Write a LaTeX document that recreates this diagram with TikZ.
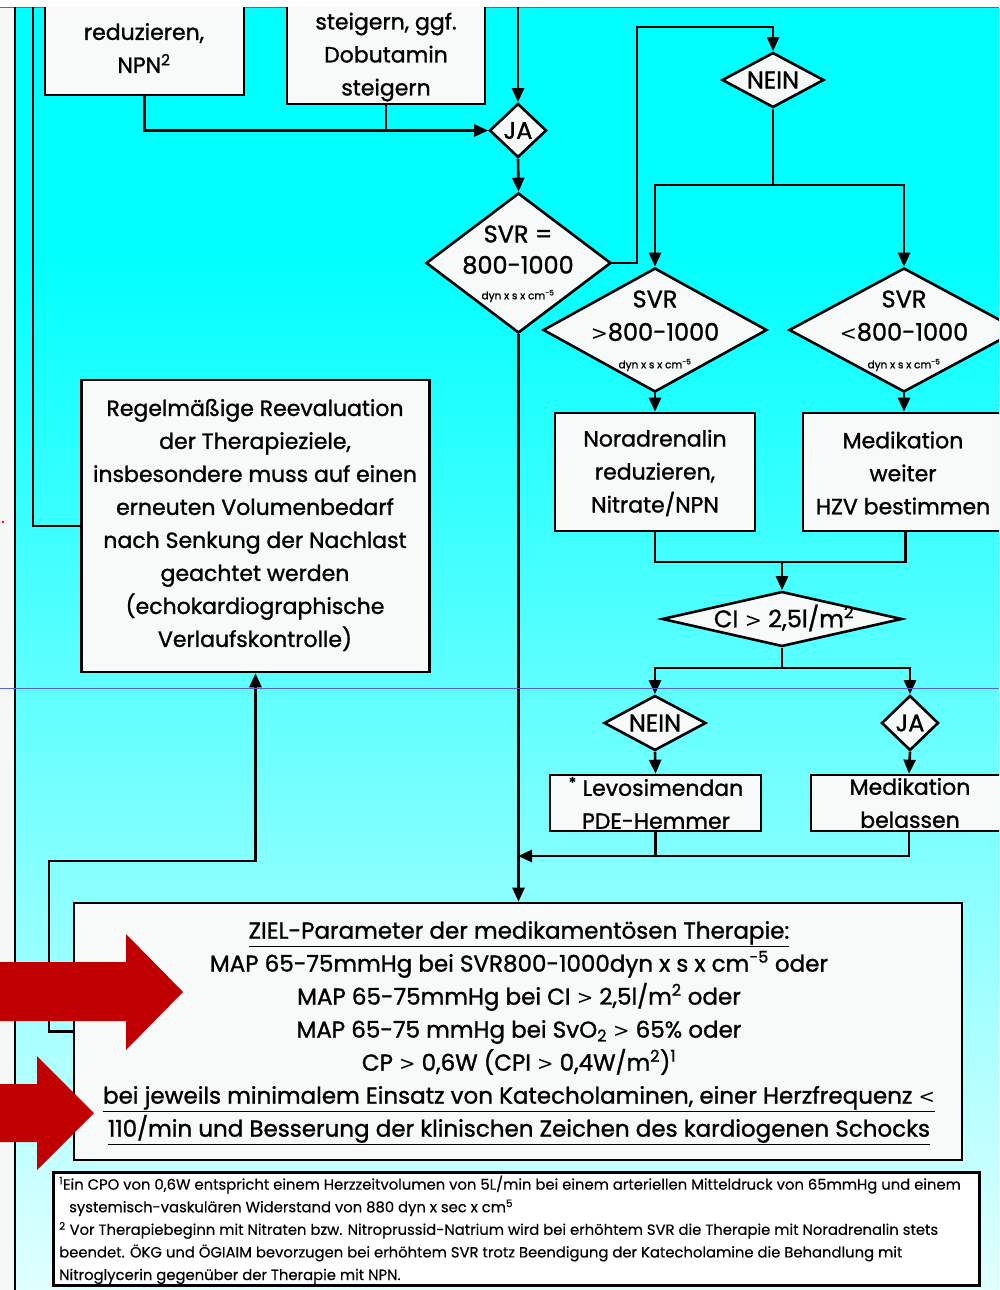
\documentclass[tikz,border=0pt]{standalone}
\usepackage{fontspec}
\setmainfont{Poppins}
\newfontfamily\medf{Poppins}[FakeBold=1.2]
\newfontfamily\footf{Poppins}[FakeBold=0.4]
\newfontfamily\symf{DejaVu Sans}
\newcommand{\sgt}{{\symf\fontsize{0.85em}{1em}\selectfont >}}
\newcommand{\slt}{{\symf\fontsize{0.85em}{1em}\selectfont <}}
\usetikzlibrary{arrows.meta,shapes.geometric}

\definecolor{cyanA}{RGB}{0,255,255}
\definecolor{cyanB}{RGB}{165,255,255}
\definecolor{cyanC}{RGB}{225,255,255}
\definecolor{boxfill}{RGB}{248,250,250}
\definecolor{arrowred}{RGB}{192,0,0}
\definecolor{guide}{RGB}{80,100,220}
\definecolor{strip}{RGB}{245,246,246}

\tikzset{
  box/.style={draw=black, line width=2.6pt, fill=boxfill, inner sep=0pt},
  dia/.style={draw=black, line width=2.6pt, fill=boxfill, diamond, inner sep=0pt},
  conn/.style={draw=black, line width=2.6pt},
  arr/.style={conn, -{Triangle[length=14pt,width=12pt]}},
  txt/.style={font=\medf\fontsize{22}{33}\selectfont, align=center, inner sep=0pt},
  dtxt/.style={font=\medf\fontsize{24}{30}\selectfont, align=center, inner sep=0pt},
  tiny/.style={font=\medf\fontsize{10.5}{11}\selectfont, inner sep=0pt},
  ztxt/.style={font=\medf\fontsize{23}{33}\selectfont, align=center, inner sep=0pt},
  ftxt/.style={font=\footf\fontsize{14.8}{22.6}\selectfont, align=left, inner sep=0pt, anchor=north west},
  bigarrow/.style={fill=arrowred, draw=none},
}

\begin{document}
\begin{tikzpicture}[x=1pt,y=-1pt]
\useasboundingbox (0,0) rectangle (999,1290);
\fill[white] (0,0) rectangle (999,1290);
\fill[strip] (0,8) rectangle (14,1290);
\fill[cyanA] (14,8) rectangle (999,250);
\shade[top color=cyanA, middle color=cyanB, bottom color=cyanC] (14,250) rectangle (999,1290);
\draw[guide, line width=1pt] (0,8) -- (999,8);

\begin{scope}
\clip (0,8) rectangle (999,1290);

% outer lines on the left
\coordinate (L0top) at (15,-20);
\coordinate (L0bot) at (15,1300);
\draw[conn] (L0top) -- (L0bot);

% top boxes (cut off)
\node[box, minimum width=199, minimum height=170] (b1) at (144.5,10) {};
\node[txt] (b1t) at (144,48) {reduzieren,\\NPN\textsuperscript{2}};
\node[box, minimum width=198, minimum height=180] (b2) at (386,14) {};
\node[txt] (b2t) at (386,57) {steigern, ggf.\\Dobutamin\\steigern};

% diamonds
\node[dia, minimum width=57, minimum height=54] (ja) at (518,130.5) {};
\node[dtxt] (jat) at (ja) {JA};
\node[dia, minimum width=185, minimum height=140] (svr) at (518.5,263) {};
\node[dtxt] (svrt1) at (518,234) {SVR =};
\node[dtxt] (svrt2) at (518,265) {800-1000};
\node[tiny] (svrt3) at (518,296) {dyn x s x cm\textsuperscript{-5}};

\node[dia, minimum width=102, minimum height=55] (nein) at (773,80) {};
\node[dtxt] (neint) at (nein) {NEIN};

\node[dia, minimum width=224, minimum height=124] (svrg) at (655,330) {};
\node[dtxt] (svrgt1) at (655,299) {SVR};
\node[dtxt] (svrgt2) at (655,332) {\sgt800-1000};
\node[tiny] (svrgt3) at (655,365) {dyn x s x cm\textsuperscript{-5}};

\node[dia, minimum width=230, minimum height=124] (svrl) at (904,330) {};
\node[dtxt] (svrlt1) at (904,299) {SVR};
\node[dtxt] (svrlt2) at (904,332) {\slt800-1000};
\node[tiny] (svrlt3) at (904,365) {dyn x s x cm\textsuperscript{-5}};

% boxes middle
\node[box, minimum width=200, minimum height=118] (nor) at (655,472) {};
\node[txt] (nort) at (655,473) {Noradrenalin\\reduzieren,\\Nitrate/NPN};
\node[box, minimum width=205, minimum height=118] (medw) at (905.5,472) {};
\node[txt] (medwt) at (903,473) {Medikation\\weiter\\HZV bestimmen};

\node[box, minimum width=348, minimum height=292] (reg) at (255.5,526) {};
\node[txt] (regt) at (255,525) {Regelmäßige Reevaluation\\der Therapieziele,\\insbesondere muss auf einen\\erneuten Volumenbedarf\\nach Senkung der Nachlast\\geachtet werden\\(echokardiographische\\Verlaufskontrolle)};

\node[dia, minimum width=240, minimum height=55] (ci) at (782,619) {};
\node[dtxt] (cit) at (784,618) {CI \sgt{} 2,5l/m\textsuperscript{2}};

\node[dia, minimum width=102, minimum height=55] (nein2) at (655,723) {};
\node[dtxt] (nein2t) at (nein2) {NEIN};
\node[dia, minimum width=57, minimum height=55] (ja2) at (910,723) {};
\node[dtxt] (ja2t) at (ja2) {JA};

\node[box, minimum width=211, minimum height=56] (levo) at (655.5,803) {};
\node[txt] (levot) at (656,803) {\textsuperscript{*} Levosimendan\\PDE-Hemmer};
\node[box, minimum width=196, minimum height=56] (medb) at (909,803) {};
\node[txt] (medbt) at (910,803) {Medikation\\belassen};

% goal box
\node[box, minimum width=888, minimum height=257] (ziel) at (518,1031.5) {};
\node[ztxt] (zielt) at (519,1033) {\underline{ZIEL-Parameter der medikamentösen Therapie:}\\
MAP 65-75mmHg bei SVR800-1000dyn x s x cm\textsuperscript{-5} oder\\
MAP 65-75mmHg bei CI \sgt{} 2,5l/m\textsuperscript{2} oder\\
MAP 65-75 mmHg bei SvO\textsubscript{2} \sgt{} 65\% oder\\
CP \sgt{} 0,6W (CPI \sgt{} 0,4W/m\textsuperscript{2})\textsuperscript{1}\\
\underline{bei jeweils minimalem Einsatz von Katecholaminen, einer Herzfrequenz \slt}\\
\underline{110/min und Besserung der klinischen Zeichen des kardiogenen Schocks}};

% footnote box
\node[box, fill=white, minimum width=927, minimum height=114] (foot) at (516.5,1229) {};
\draw[line width=0.8pt] ([shift={(3,3)}]foot.north west) rectangle ([shift={(-3,-3)}]foot.south east);
\node[ftxt] (foott) at (59,1175.5) {\textsuperscript{1}Ein CPO von 0,6W entspricht einem Herzzeitvolumen von 5L/min bei einem arteriellen Mitteldruck von 65mmHg und einem\\
\hspace*{10pt}systemisch-vaskulären Widerstand von 880 dyn x sec x cm\textsuperscript{5}\\
\textsuperscript{2} Vor Therapiebeginn mit Nitraten bzw. Nitroprussid-Natrium wird bei erhöhtem SVR die Therapie mit Noradrenalin stets\\
beendet. ÖKG und ÖGIAIM bevorzugen bei erhöhtem SVR trotz Beendigung der Katecholamine die Behandlung mit\\
Nitroglycerin gegenüber der Therapie mit NPN.};

% connectors
\coordinate (topin) at (518,-20);
\coordinate (topL) at (33,-20);
\coordinate (j1) at (637,27);
\coordinate (j2) at (773,185);
\coordinate (j3) at (782,562);
\coordinate (j4) at (782,668);
\coordinate (j5) at (518,856);
\coordinate (j6) at (49,861);

\draw[arr] (topin) -- (ja.north);
\draw[arr] (b1.south) |- (ja.west);
\draw[conn] (b2.south) -- (b2.south |- ja.west);
\draw[arr] (ja.south) -- (svr.north);
\draw[arr] (svr.east) -| (j1) -| (nein.north);
\draw[conn] (nein.south) -- (j2);
\draw[arr] (j2) -| (svrg.north);
\draw[arr] (j2) -| (svrl.north);
\draw[arr] (svrg.south) -- (nor.north);
\draw[arr] (svrl.south) -- (svrl.south |- nor.north);
\draw[conn] (nor.south) |- (j3);
\draw[conn] (medw.south) |- (j3);
\draw[arr] (j3) -- (ci.north);
\draw[conn] (ci.south) -- (j4);
\draw[arr] (j4) -| (nein2.north);
\draw[arr] (j4) -| (ja2.north);
\draw[arr] (nein2.south) -- (levo.north);
\draw[arr] (ja2.south) -- (medb.north);
\draw[conn] (levo.south) -- (levo.south |- j5);
\draw[arr] (medb.south) |- (j5);
\draw[arr] (svr.south) -- (svr.south |- ziel.north);
\draw[arr] (ziel.west) -| (j6) -| (reg.south);
\draw[conn] (reg.west) -| (topL);
\end{scope}

% guide line and marks
\draw[guide, line width=0.6pt] (0,688) -- (999,688);
\fill[red] (3,522) circle (1.3);

% red block arrows
\fill[bigarrow] (0,962) -- (126,962) -- (126,934) -- (183,992) -- (126,1050) -- (126,1021) -- (0,1021) -- cycle;
\fill[bigarrow] (0,1084) -- (37,1084) -- (37,1056) -- (94,1113) -- (37,1170) -- (37,1142) -- (0,1142) -- cycle;
\end{tikzpicture}
\end{document}
